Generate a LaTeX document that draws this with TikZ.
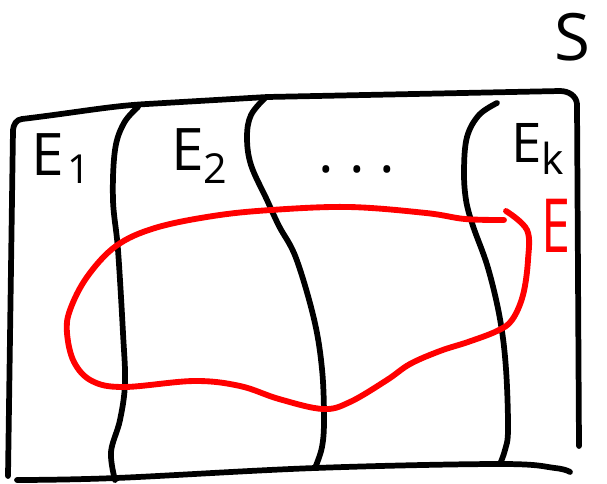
\documentclass[tikz,border=0pt]{standalone}
\usepackage{fontspec}
\setmainfont{Open Sans}
\begin{document}
\begin{tikzpicture}[x=0.75pt,y=-0.75pt,
  ink/.style={line width=4.3pt,line cap=round,line join=round},
  redink/.style={ink,red,line width=4.4pt},
  lab/.style={inner sep=0pt,font=\fontsize{44}{44}\selectfont}]
\useasboundingbox (0,0) rectangle (607,483);

% outer set S
\draw[ink] (8,476) -- (13,130) to[out=85,in=185] (22,119)
  .. controls (80,112) and (110,106) .. (147,104)
  -- (267,97) -- (560,91) to[out=0,in=95] (577,104) -- (579,446);
\draw[ink] plot[smooth,tension=0.6] coordinates {(17,480) (116,478) (315,468) (500,464) (555,468) (570,472)};

% the parts E_1 ... E_k
\draw[ink] plot[smooth,tension=0.6] coordinates {(138,107) (124,123) (115,150) (113,200) (118,250) (123,333) (125,383) (120,420) (111,452) (115,480)};
\draw[ink] plot[smooth,tension=0.6] coordinates {(265,98) (251,115) (247,137) (251,165) (267,200) (279,226) (296,258) (314,319) (322,369) (324,419) (322,447) (315,468)};
\draw[ink] plot[smooth,tension=0.6] coordinates {(497,103) (479,115) (467,137) (464,170) (466,200) (473,226) (488,268) (500,319) (506,369) (508,430) (505,450) (500,464)};

% the set E
\draw[redink] plot[smooth,tension=0.6] coordinates {(504,220) (465,219) (426,213) (349,207) (271,210) (213,216) (155,228) (116,246) (87,277) (70,310) (67,333) (74,362) (92,381) (124,387) (194,381) (240,386) (279,399) (323,409) (350,402) (387,380) (410,364) (440,351) (468,342) (497,331) (512,320) (523,295) (528,260) (527,230) (506,211)};

% labels
\node[lab,anchor=base west] (e1) at (31,175) {E\hspace{3pt}\raisebox{-6pt}{\fontsize{30}{30}\selectfont 1}};
\node[lab,anchor=base west] (e2) at (171,170) {E\raisebox{-10pt}{\fontsize{31}{31}\selectfont 2}};
\node[lab,anchor=base] (dots) at (357,172) {.\hspace{11pt}.\hspace{11pt}.};
\node[lab,anchor=base west,font=\fontsize{41}{41}\selectfont] (ek) at (511,162) {E\raisebox{-9pt}{\fontsize{32}{32}\selectfont k}};
\node[lab,font=\fontsize{49}{49}\selectfont] (s) at (572,37) {S};
\node[lab,anchor=base west,text=red,font=\fontsize{56}{56}\selectfont,xscale=0.7,transform shape] (e) at (541,252) {E};
\end{tikzpicture}
\end{document}
